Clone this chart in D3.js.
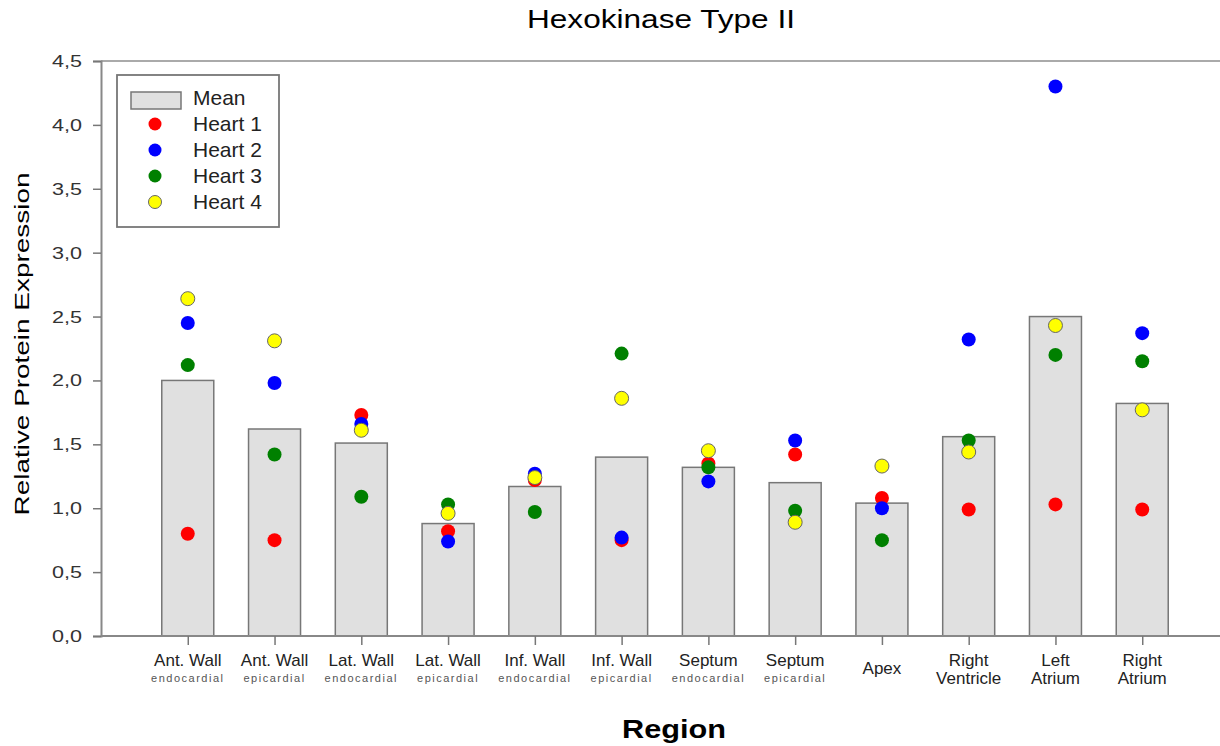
<!DOCTYPE html>
<html>
<head>
<meta charset="utf-8">
<script src="https://cdn.jsdelivr.net/npm/d3@7"></script>
<style>
  body { margin: 0; background: #fff; }
  text { font-family: "Liberation Sans", Arial, sans-serif; }
</style>
</head>
<body>
<div id="vis"></div>
<script>
var w = 1220, h = 746;

// data
var regions = ["antEndo", "antEpi", "latEndo", "latEpi", "infEndo", "infEpi",
               "septEndo", "septEpi", "apex", "rv", "la", "ra"];
var labelTop = ["Ant. Wall", "Ant. Wall", "Lat. Wall", "Lat. Wall", "Inf. Wall", "Inf. Wall",
                "Septum", "Septum", "Apex", "Right", "Left", "Right"];
var labelSub = ["endocardial", "epicardial", "endocardial", "epicardial", "endocardial", "epicardial",
                "endocardial", "epicardial", "", "Ventricle", "Atrium", "Atrium"];
var mean   = [2.00, 1.62, 1.51, 0.88, 1.17, 1.40, 1.32, 1.20, 1.04, 1.56, 2.50, 1.82];
var heart1 = [0.80, 0.75, 1.73, 0.82, 1.22, 0.75, 1.35, 1.42, 1.08, 0.99, 1.03, 0.99];
var heart2 = [2.45, 1.98, 1.66, 0.74, 1.27, 0.77, 1.21, 1.53, 1.00, 2.32, 4.30, 2.37];
var heart3 = [2.12, 1.42, 1.09, 1.03, 0.97, 2.21, 1.32, 0.98, 0.75, 1.53, 2.20, 2.15];
var heart4 = [2.64, 2.31, 1.61, 0.96, 1.24, 1.86, 1.45, 0.89, 1.33, 1.44, 2.43, 1.77];
var yTicks = [0, 0.5, 1, 1.5, 2, 2.5, 3, 3.5, 4, 4.5];

var series = [
  {name: "Heart 1", values: heart1, fill: "#ff0000", stroke: "none"},
  {name: "Heart 2", values: heart2, fill: "#0000ff", stroke: "none"},
  {name: "Heart 3", values: heart3, fill: "#008000", stroke: "none"},
  {name: "Heart 4", values: heart4, fill: "#ffff00", stroke: "#666"}
];

var x = d3.scalePoint().domain(regions).range([101, 1229]).padding(1);
var y = d3.scaleLinear().domain([0, 4.5]).range([636, 61]);
var barW = 52;

var svg = d3.select("#vis").append("svg")
  .attr("width", w)
  .attr("height", h);

// title (the original font runs wide, so stretch it)
svg.append("text")
  .attr("x", 661).attr("y", 28)
  .attr("text-anchor", "middle")
  .attr("textLength", 268).attr("lengthAdjust", "spacingAndGlyphs")
  .style("font-size", "25px")
  .text("Hexokinase Type II");

// top frame line runs off the right edge
svg.append("line").attr("x1", 101).attr("x2", w).attr("y1", 61).attr("y2", 61)
  .attr("stroke", "#aaa").attr("stroke-width", 2);

// bars
svg.selectAll(".bar")
  .data(regions)
  .enter().append("rect")
  .attr("class", "bar")
  .attr("x", function(d) { return x(d) - barW / 2; })
  .attr("y", function(d, i) { return y(mean[i]); })
  .attr("width", barW)
  .attr("height", function(d, i) { return y(0) - y(mean[i]); })
  .attr("fill", "#e0e0e0")
  .attr("stroke", "#777")
  .attr("stroke-width", 1.5);

// y axis
var yAxis = svg.append("g")
  .attr("transform", "translate(101,0)")
  .call(d3.axisLeft(y).tickValues(yTicks).tickSize(8)
    .tickFormat(function(d) { return d3.format(".1f")(d).replace(".", ","); }));
yAxis.select(".domain").attr("stroke", "#888").attr("stroke-width", 2);
yAxis.selectAll(".tick line").attr("stroke", "#777").attr("stroke-width", 1.5);
// stretched labels, placed from their left edge
yAxis.selectAll("text")
  .attr("text-anchor", "start")
  .attr("x", -49)
  .attr("textLength", 30).attr("lengthAdjust", "spacingAndGlyphs")
  .style("font-size", "17px").attr("fill", "#333")
  .style("font-family", "'Liberation Sans', Arial, sans-serif");

// x axis
var xAxis = svg.append("g")
  .attr("transform", "translate(0,636)")
  .call(d3.axisBottom(x).tickSize(9).tickFormat(""));
xAxis.select(".domain").attr("d", "M101,0H" + w).attr("stroke", "#888").attr("stroke-width", 2);
xAxis.selectAll(".tick line").attr("stroke", "#777").attr("stroke-width", 1.5);

// x labels
var lab = svg.selectAll(".xlab")
  .data(regions)
  .enter().append("g")
  .attr("class", "xlab")
  .attr("transform", function(d) { return "translate(" + x(d) + ",0)"; });

lab.append("text")
  .attr("text-anchor", "middle")
  .attr("y", function(d, i) { return labelSub[i] === "" ? 674 : 666; })
  .style("font-size", "17px")
  .attr("fill", "#222")
  .text(function(d, i) { return labelTop[i]; });

lab.append("text")
  .attr("text-anchor", "middle")
  .attr("y", function(d, i) { return i >= 8 ? 684 : 682; })
  .style("font-size", function(d, i) { return i >= 8 ? "17px" : "11px"; })
  .style("letter-spacing", function(d, i) { return i >= 8 ? "0px" : "1.5px"; })
  .attr("fill", function(d, i) { return i >= 8 ? "#222" : "#555"; })
  .text(function(d, i) { return labelSub[i]; });

// dots
series.forEach(function(s) {
  svg.selectAll(null)
    .data(s.values)
    .enter().append("circle")
    .attr("cx", function(d, i) { return x(regions[i]); })
    .attr("cy", function(d) { return y(d); })
    .attr("r", 7)
    .attr("fill", s.fill)
    .attr("stroke", s.stroke)
    .attr("stroke-width", 1);
});

// axis titles
svg.append("text")
  .attr("transform", "translate(29,344) rotate(-90)")
  .attr("text-anchor", "middle")
  .attr("textLength", 343).attr("lengthAdjust", "spacingAndGlyphs")
  .style("font-size", "21px")
  .text("Relative Protein Expression");

svg.append("text")
  .attr("x", 674).attr("y", 738)
  .attr("text-anchor", "middle")
  .attr("textLength", 104).attr("lengthAdjust", "spacingAndGlyphs")
  .style("font-size", "25px")
  .style("font-weight", "bold")
  .text("Region");

// legend
var legend = svg.append("g");
legend.append("rect")
  .attr("x", 117).attr("y", 75).attr("width", 162).attr("height", 152)
  .attr("fill", "#fff").attr("stroke", "#777").attr("stroke-width", 1.8);
legend.append("rect")
  .attr("x", 131).attr("y", 92).attr("width", 50).attr("height", 17)
  .attr("fill", "#e0e0e0").attr("stroke", "#777").attr("stroke-width", 1.5);
legend.append("text")
  .attr("x", 193).attr("y", 105)
  .style("font-size", "21px").attr("fill", "#222")
  .text("Mean");

var items = legend.selectAll(".item")
  .data(series)
  .enter().append("g")
  .attr("transform", function(d, i) { return "translate(0," + (124 + i * 26) + ")"; });
items.append("circle")
  .attr("cx", 155).attr("cy", 0).attr("r", 6.5)
  .attr("fill", function(d) { return d.fill; })
  .attr("stroke", function(d) { return d.stroke; });
items.append("text")
  .attr("x", 193).attr("y", 6.5)
  .style("font-size", "21px").attr("fill", "#222")
  .text(function(d) { return d.name; });
</script>
</body>
</html>
